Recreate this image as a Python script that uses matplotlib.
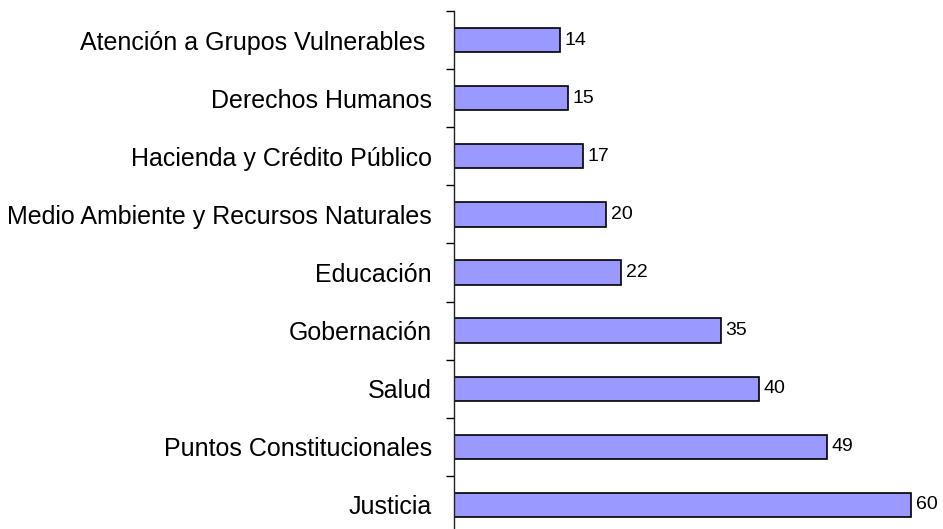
import matplotlib
matplotlib.use("Agg")
import matplotlib.pyplot as plt
import numpy as np

categories = [
    "Justicia",
    "Puntos Constitucionales",
    "Salud",
    "Gobernación",
    "Educación",
    "Medio Ambiente y Recursos Naturales",
    "Hacienda y Crédito Público",
    "Derechos Humanos",
    "Atención a Grupos Vulnerables ",
]
values = [60, 49, 40, 35, 22, 20, 17, 15, 14]

plt.rcParams["font.family"] = ["Liberation Sans", "DejaVu Sans"]

fig = plt.figure(figsize=(9.43, 5.29), dpi=100)
W, H = 943, 529
left, top, bottom = 453.5, 11, 534
ax = fig.add_axes([left / W, 1 - bottom / H, 63 * 7.63 / W, (bottom - top) / H])

y = np.arange(len(categories))
ax.barh(y, values, height=0.42, color="#9999FF", edgecolor="black", linewidth=1.2)
for yi, v in zip(y, values):
    ax.text(v + 0.6, yi, str(v), va="center", ha="left", fontsize=14)

ax.set_xlim(0, 63)
ax.set_ylim(-0.5, len(categories) - 0.5)
ax.set_yticks(y)
ax.set_yticklabels(categories, fontsize=18)
ax.set_yticks(np.arange(-0.5, len(categories), 1.0), minor=True)
ax.tick_params(axis="y", which="major", length=0, pad=15.5)
ax.tick_params(axis="y", which="minor", length=6, width=1, color="black")
ax.set_xticks([])
for side in ["top", "right", "bottom"]:
    ax.spines[side].set_visible(False)
ax.spines["left"].set_linewidth(1)
ax.spines["left"].set_color("#222222")

fig.savefig("out.png", dpi=100)
